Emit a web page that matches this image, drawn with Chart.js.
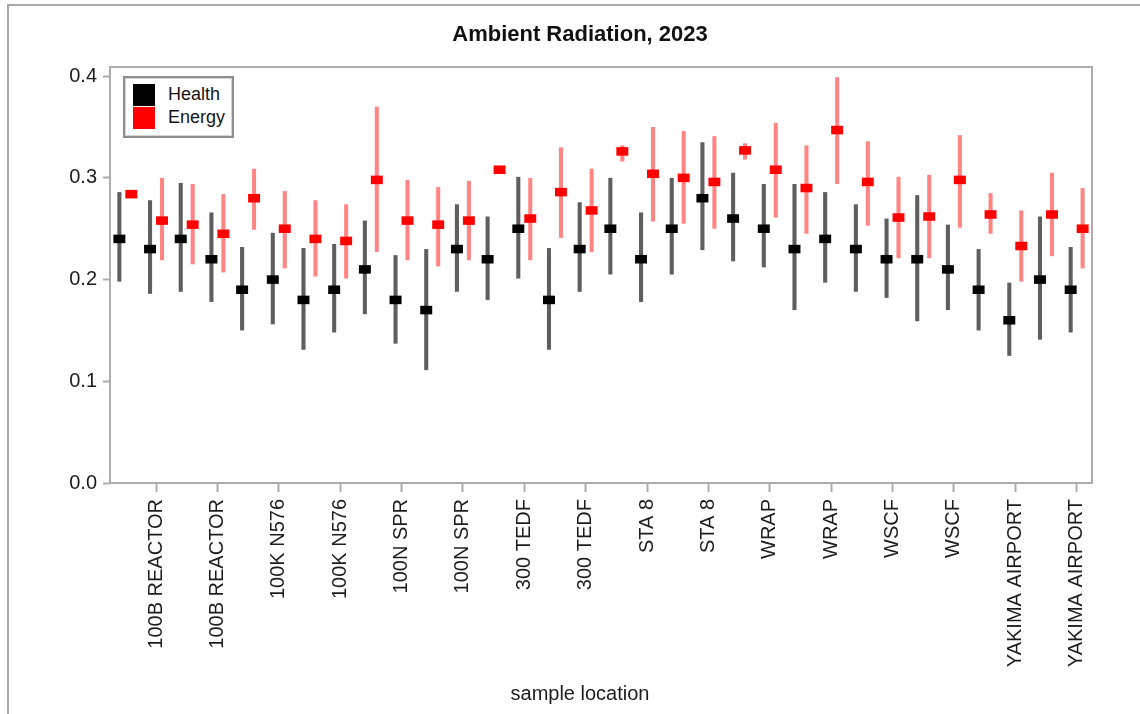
<!DOCTYPE html>
<html>
<head>
<meta charset="utf-8">
<title>Ambient Radiation, 2023</title>
<script src="https://cdn.jsdelivr.net/npm/chart.js@4.4.1/dist/chart.umd.min.js"></script>
<style>
  html, body { margin: 0; padding: 0; background: #fff; overflow: hidden; }
  #wrap { position: relative; width: 1140px; height: 714px; }
  #outer { position: absolute; left: 7px; top: 4px; width: 1160px; height: 740px;
           border-top: 2px solid #a8a8a8; border-left: 2px solid #a8a8a8; pointer-events: none; }
  #legend { position: absolute; left: 123px; top: 76px; width: 111px; height: 62px; box-sizing: border-box;
            border: 2px solid #8e8e8e; box-shadow: inset 0 0 0 1px #d4d4d4; background: #fff;
            font: 18px "Liberation Sans", Arial, sans-serif; color: #141414; }
  #legend .sw { position: absolute; left: 8px; width: 22px; height: 22px; }
  #legend .lb { position: absolute; left: 43px; line-height: 22px; }
</style>
</head>
<body>
<div id="wrap">
  <canvas id="radChart" width="1140" height="714"></canvas>
  <div id="legend"></div>
  <div id="outer"></div>
</div>
<script>
// sample locations, each one shows up 4 times along the axis
const locations = ['100B REACTOR', '100K N576', '100N SPR', '300 TEDF', 'STA 8', 'WRAP', 'WSCF', 'YAKIMA AIRPORT'];
const categories = locations.flatMap(l => [l, l, l, l]);

const yTicks = [0.0, 0.1, 0.2, 0.3, 0.4];

// Health (black)
const healthVals = [0.24, 0.23, 0.24, 0.22, 0.19, 0.20, 0.18, 0.19, 0.21, 0.18, 0.17, 0.23, 0.22, 0.25, 0.18, 0.23,
                    0.25, 0.22, 0.25, 0.28, 0.26, 0.25, 0.23, 0.24, 0.23, 0.22, 0.22, 0.21, 0.19, 0.16, 0.20, 0.19];
const healthLo = [0.198, 0.186, 0.188, 0.178, 0.150, 0.156, 0.131, 0.148, 0.166, 0.137, 0.111, 0.188, 0.180, 0.201, 0.131, 0.188,
                  0.205, 0.178, 0.205, 0.229, 0.218, 0.212, 0.170, 0.197, 0.188, 0.182, 0.159, 0.170, 0.150, 0.125, 0.141, 0.148];
const healthHi = [0.286, 0.278, 0.295, 0.266, 0.232, 0.246, 0.231, 0.235, 0.258, 0.224, 0.230, 0.274, 0.262, 0.301, 0.231, 0.276,
                  0.300, 0.266, 0.300, 0.335, 0.305, 0.294, 0.294, 0.286, 0.274, 0.260, 0.283, 0.254, 0.230, 0.197, 0.262, 0.232];

// Energy (red)
const energyVals = [0.284, 0.258, 0.254, 0.245, 0.280, 0.250, 0.240, 0.238, 0.298, 0.258, 0.254, 0.258, 0.308, 0.260, 0.286, 0.268,
                    0.326, 0.304, 0.300, 0.296, 0.327, 0.308, 0.290, 0.347, 0.296, 0.261, 0.262, 0.298, 0.264, 0.233, 0.264, 0.250];
const energyLo = [0.281, 0.219, 0.215, 0.207, 0.249, 0.211, 0.203, 0.201, 0.227, 0.219, 0.213, 0.219, 0.305, 0.219, 0.241, 0.227,
                  0.316, 0.257, 0.255, 0.250, 0.318, 0.261, 0.245, 0.294, 0.253, 0.221, 0.221, 0.251, 0.245, 0.198, 0.223, 0.211];
const energyHi = [0.288, 0.300, 0.294, 0.284, 0.309, 0.287, 0.278, 0.274, 0.370, 0.298, 0.291, 0.297, 0.311, 0.300, 0.330, 0.309,
                  0.332, 0.350, 0.346, 0.341, 0.334, 0.354, 0.332, 0.399, 0.336, 0.301, 0.303, 0.342, 0.285, 0.268, 0.305, 0.290];

const FRAME = '#acacac';
const TXT = '#1c1c1c';
const FONT = '"Liberation Sans", Arial, sans-serif';
const MARK = 0.0042; // half height of the square markers, in y units

const range = (lo, hi) => lo.map((l, i) => [l, hi[i]]);
const marks = vals => vals.map(v => [v - MARK, v + MARK]);

// legend box (drawn in html, it sits inside the plot)
const legendItems = [['Health', '#000000'], ['Energy', '#ff0000']];
const legendEl = document.getElementById('legend');
legendItems.forEach(([name, col], i) => {
    const top = 6 + i * 23;
    legendEl.insertAdjacentHTML('beforeend',
        '<div class="sw" style="top:' + top + 'px;background:' + col + '"></div>' +
        '<div class="lb" style="top:' + (top - 1) + 'px">' + name + '</div>');
});

const plotFrame = {
    id: 'plotFrame',
    beforeDatasetsDraw(chart) {
        const { ctx, chartArea: a } = chart;
        ctx.save();
        ctx.strokeStyle = FRAME;
        ctx.lineWidth = 2;
        ctx.strokeRect(a.left, a.top, a.right - a.left, a.bottom - a.top);
        ctx.restore();
    }
};

new Chart('radChart', {
    type: 'bar',
    data: {
        labels: categories,
        datasets: [
            { label: 'Health', data: marks(healthVals), backgroundColor: '#000000', stack: 'h', barPercentage: 1, order: 1 },
            { label: 'Health range', data: range(healthLo, healthHi), backgroundColor: '#5e5e5e', stack: 'h', barPercentage: 0.34, order: 2 },
            { label: 'Energy', data: marks(energyVals), backgroundColor: '#ff0000', stack: 'e', barPercentage: 1, order: 1 },
            { label: 'Energy range', data: range(energyLo, energyHi), backgroundColor: '#ff8585', stack: 'e', barPercentage: 0.34, order: 2 }
        ]
    },
    options: {
        responsive: false,
        animation: false,
        categoryPercentage: 0.78,
        layout: { padding: { left: 68, right: 48, top: 0, bottom: 0 } },
        plugins: {
            legend: { display: false },
            tooltip: { enabled: false },
            title: {
                display: true,
                text: 'Ambient Radiation, 2023',
                color: '#111',
                font: { family: FONT, size: 22, weight: 'bold' },
                padding: { top: 22, bottom: 18.6 }
            },
            subtitle: {
                display: true,
                position: 'bottom',
                text: 'sample location',
                color: TXT,
                font: { family: FONT, size: 20 },
                padding: { top: 0, bottom: 8 }
            }
        },
        scales: {
            x: {
                offset: true,
                border: { display: false },
                grid: {
                    offset: false,
                    drawOnChartArea: false,
                    tickLength: 9,
                    tickWidth: 2,
                    tickColor: c => (c.index % 2 ? FRAME : 'rgba(0,0,0,0)')
                },
                ticks: {
                    autoSkip: false,
                    maxRotation: 90,
                    minRotation: 90,
                    padding: 7,
                    color: TXT,
                    font: { family: FONT, size: 20 },
                    callback: function (val, i) { return i % 2 ? this.getLabelForValue(val) : ''; }
                },
                afterFit: s => { s.height = 199; }
            },
            y: {
                stacked: false,
                min: 0,
                max: 0.409,
                border: { display: false },
                grid: { drawOnChartArea: false, tickLength: 7, tickWidth: 2, tickColor: FRAME },
                ticks: {
                    stepSize: 0.1,
                    padding: 6,
                    color: TXT,
                    font: { family: FONT, size: 20 },
                    callback: v => v.toFixed(1)
                },
                afterBuildTicks: s => {
                    s.ticks = yTicks.map(v => ({ value: v }));
                },
                afterFit: s => { s.width = 42; }
            }
        }
    },
    plugins: [plotFrame]
});
</script>
</body>
</html>
